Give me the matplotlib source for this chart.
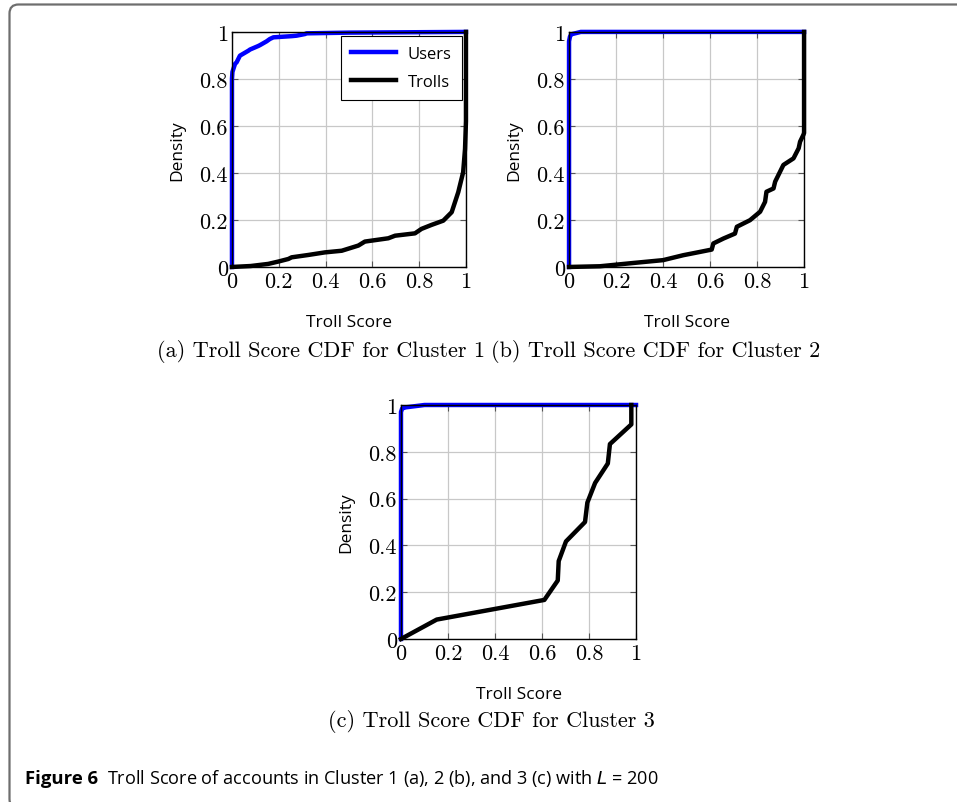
import numpy as np
import matplotlib
matplotlib.use("Agg")
import matplotlib.pyplot as plt
from matplotlib.patches import FancyBboxPatch

# Cluster 1 CDF points (troll score, cumulative density)
c1_users_x = [0.0, 0.0, 0.002, 0.013, 0.02, 0.034, 0.07, 0.077, 0.112, 0.12, 0.148, 0.162, 0.177,
              0.255, 0.276, 0.312, 0.319, 0.5, 1.0]
c1_users_y = [0.0, 0.80, 0.83, 0.864, 0.871, 0.899, 0.92, 0.925, 0.94, 0.944, 0.96, 0.97, 0.977,
              0.982, 0.984, 0.991, 0.994, 0.997, 1.0]
c1_trolls_x = [0.0, 0.08, 0.155, 0.198, 0.241, 0.255, 0.326, 0.397, 0.469, 0.54, 0.568, 0.668,
               0.697, 0.782, 0.81, 0.853, 0.903, 0.939, 0.967, 0.988, 0.996, 1.0, 1.0]
c1_trolls_y = [0.0, 0.004, 0.013, 0.023, 0.034, 0.041, 0.051, 0.062, 0.069, 0.091, 0.108, 0.122,
               0.133, 0.143, 0.162, 0.179, 0.197, 0.233, 0.318, 0.403, 0.502, 0.62, 1.0]

# Cluster 2
c2_users_x = [0.0, 0.0, 0.004, 0.01, 0.05, 1.0]
c2_users_y = [0.0, 0.96, 0.98, 0.99, 1.0, 1.0]
c2_trolls_x = [0.0, 0.132, 0.274, 0.40, 0.486, 0.557, 0.607, 0.614, 0.657, 0.706, 0.714, 0.77,
               0.813, 0.834, 0.84, 0.87, 0.877, 0.912, 0.955, 0.977, 0.983, 0.997, 1.0, 1.0]
c2_trolls_y = [0.0, 0.003, 0.017, 0.029, 0.05, 0.064, 0.074, 0.10, 0.121, 0.142, 0.171, 0.199,
               0.235, 0.277, 0.32, 0.334, 0.363, 0.434, 0.462, 0.505, 0.533, 0.562, 0.57, 1.0]

# Cluster 3
c3_users_x = [0.0, 0.0, 0.005, 0.02, 0.1, 1.0]
c3_users_y = [0.0, 0.97, 0.985, 0.99, 1.0, 1.0]
c3_trolls_x = [0.0, 0.152, 0.61, 0.667, 0.671, 0.702, 0.783, 0.793, 0.826, 0.88, 0.889, 0.98, 0.98]
c3_trolls_y = [0.0, 0.083, 0.167, 0.25, 0.333, 0.417, 0.5, 0.583, 0.667, 0.75, 0.833, 0.917, 1.0]

tick_vals = [0, 0.2, 0.4, 0.6, 0.8, 1]
tick_labels = ["0", "0.2", "0.4", "0.6", "0.8", "1"]

captions = ["(a) Troll Score CDF for Cluster 1",
            "(b) Troll Score CDF for Cluster 2",
            "(c) Troll Score CDF for Cluster 3"]

SANS = "Open Sans"
SERIF = "cmr10"


def style_axis(ax):
    ax.set_xlim(0, 1)
    ax.set_ylim(0, 1)
    ax.set_xticks(tick_vals)
    ax.set_yticks(tick_vals)
    ax.set_xticklabels(tick_labels, family=SERIF, fontsize=16)
    ax.set_yticklabels(tick_labels, family=SERIF, fontsize=16)
    ax.tick_params(direction="in", top=True, right=True, length=4, width=0.8,
                   color="#555555", pad=3)
    ax.grid(True, color="#c8c8c8", linewidth=0.9)
    ax.set_axisbelow(True)
    for sp in ax.spines.values():
        sp.set_linewidth(1.0)
    ax.set_xlabel("Troll Score", family=SANS, fontsize=12.5, labelpad=17)
    ax.set_ylabel("Density", family=SANS, fontsize=12.5, labelpad=10)


fig = plt.figure(figsize=(9.57, 8.03), dpi=100)

ax1 = fig.add_axes([0.2424, 0.6663, 0.2445, 0.2927])
ax2 = fig.add_axes([0.5946, 0.6663, 0.2456, 0.2927])
ax3 = fig.add_axes([0.4190, 0.2030, 0.2456, 0.2914])

lw = 3.2
ax1.plot(c1_users_x, c1_users_y, color="#0000ff", lw=lw, label="Users", clip_on=False,
         solid_joinstyle="round")
ax1.plot(c1_trolls_x, c1_trolls_y, color="black", lw=lw, label="Trolls", clip_on=False,
         solid_joinstyle="round")
ax2.plot(c2_users_x, c2_users_y, color="#0000ff", lw=lw, clip_on=False, solid_joinstyle="round")
ax2.plot(c2_trolls_x, c2_trolls_y, color="black", lw=lw, clip_on=False, solid_joinstyle="round")
ax3.plot(c3_users_x, c3_users_y, color="#0000ff", lw=lw, clip_on=False, solid_joinstyle="round")
ax3.plot(c3_trolls_x, c3_trolls_y, color="black", lw=lw, clip_on=False, solid_joinstyle="round")

for ax in (ax1, ax2, ax3):
    style_axis(ax)

leg = ax1.legend(loc="upper right", prop={"family": SANS, "size": 12}, fancybox=False,
                 edgecolor="black", framealpha=1, handlelength=2.7, borderpad=0.6,
                 labelspacing=0.7, borderaxespad=0.25, handletextpad=0.7)
leg.get_frame().set_linewidth(0.8)

# sub captions
fig.text(321 / 957, 1 - 352 / 803, captions[0], family=SERIF, fontsize=16,
         ha="center", va="center")
fig.text(656 / 957, 1 - 352 / 803, captions[1], family=SERIF, fontsize=16,
         ha="center", va="center")
fig.text(491 / 957, 1 - 722 / 803, captions[2], family=SERIF, fontsize=16,
         ha="center", va="center")

# figure caption
fig.text(25 / 957, 1 - 779 / 803, "Figure 6", family=SANS, fontsize=13.3, fontweight="bold",
         ha="left", va="center")
fig.text(107 / 957, 1 - 779 / 803, "Troll Score of accounts in Cluster 1 (a), 2 (b), and 3 (c) with $L$ = 200",
         family=SANS, fontsize=13.1, ha="left", va="center")

# page frame
frame = FancyBboxPatch((0.095, -0.06), 10.0, 8.035, boxstyle="round,pad=0,rounding_size=0.09",
                       transform=fig.dpi_scale_trans, fill=False, edgecolor="#6e6e6e",
                       linewidth=1.6)
fig.add_artist(frame)

fig.savefig("out.png", dpi=100)
